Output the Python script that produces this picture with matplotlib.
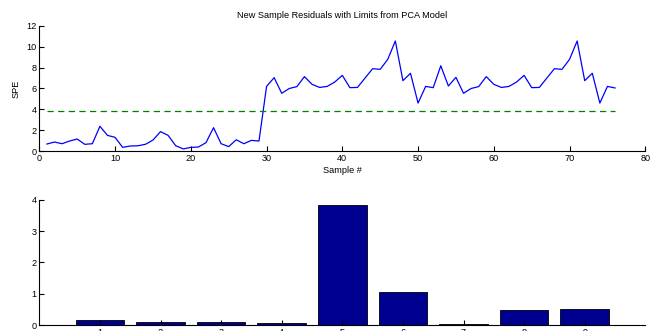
import matplotlib
matplotlib.use('Agg')
import matplotlib.pyplot as plt
import numpy as np

plt.rcParams['font.family'] = ['Liberation Sans', 'DejaVu Sans']
plt.rcParams['font.size'] = 6.6

# SPE residuals of new samples
spe = [0.67, 0.86, 0.70, 0.96, 1.15, 0.64, 0.70, 2.37, 1.50, 1.31,
       0.35, 0.48, 0.50, 0.64, 1.05, 1.86, 1.50, 0.51, 0.20, 0.35,
       0.38, 0.80, 2.24, 0.70, 0.42, 1.08, 0.70, 1.02, 0.96, 6.20,
       7.04, 5.54, 6.00, 6.18, 7.14, 6.40, 6.10, 6.20, 6.62, 7.26,
       6.08, 6.10, 7.00, 7.90, 7.84, 8.80, 10.56, 6.75, 7.46, 4.60,
       6.20, 6.08, 8.18, 6.24, 7.07, 5.54, 6.00, 6.18, 7.14, 6.40,
       6.10, 6.20, 6.62, 7.26, 6.08, 6.10, 7.00, 7.90, 7.84, 8.80,
       10.56, 6.75, 7.46, 4.60, 6.20, 6.05]
spe_limit = 3.82

# contributions per variable
variables = [1, 2, 3, 4, 5, 6, 7, 8, 9]
contrib = [0.16, 0.10, 0.10, 0.07, 3.83, 1.05, 0.03, 0.49, 0.50]

samples = np.arange(1, len(spe) + 1)

fig = plt.figure(figsize=(6.62, 3.31), dpi=100)
ax1 = fig.add_axes([0.0594, 0.5438, 0.9154, 0.3777])
ax2 = fig.add_axes([0.0594, 0.0181, 0.9154, 0.3777])

ax1.plot(samples, spe, color='#0000ff', lw=0.9)
ax1.plot([samples[0], samples[-1]], [spe_limit, spe_limit], '--', color='#008000', lw=0.9,
         dashes=(5, 3.5))
ax1.set_xlim(0, 80)
ax1.set_ylim(0, 12)
ax1.set_xticks(range(0, 81, 10))
ax1.set_yticks(range(0, 13, 2))
ax1.set_title('New Sample Residuals with Limits from PCA Model', fontsize=6.6, pad=6)
ax1.set_xlabel('Sample #', labelpad=2)
ax1.set_ylabel('SPE', labelpad=4)

ax2.bar(variables, contrib, width=0.8, color='#000090', edgecolor='black', linewidth=0.6)
ax2.set_xlim(0, 10)
ax2.set_ylim(0, 4)
ax2.set_xticks(variables)
ax2.set_yticks(range(0, 5))

for ax in (ax1, ax2):
    for s in ('top', 'right'):
        ax.spines[s].set_visible(False)
    for s in ('left', 'bottom'):
        ax.spines[s].set_linewidth(0.8)
    ax.tick_params(direction='in', length=3.5, width=0.8, labelsize=6.6, pad=2)

fig.savefig('out.png', dpi=100)
